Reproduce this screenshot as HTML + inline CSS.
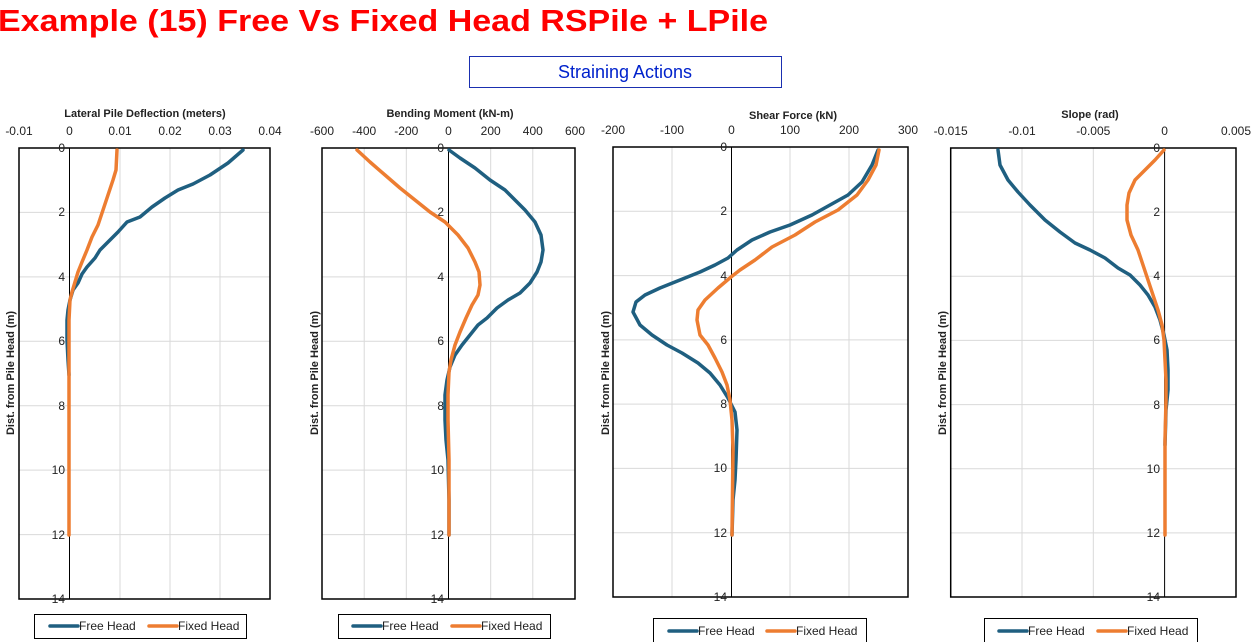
<!DOCTYPE html>
<html><head><meta charset="utf-8"><style>
html,body{margin:0;padding:0;background:#fff;}
svg{display:block;font-family:"Liberation Sans",sans-serif;}
.g{stroke:#d9d9d9;stroke-width:1;}
.b{fill:none;stroke:#000;stroke-width:1.5;}
.ax{stroke:#000;stroke-width:1;}
.tl{font-size:12px;fill:#222;text-anchor:middle;}
.yl{font-size:12px;fill:#222;text-anchor:end;}
.tt{font-size:11px;font-weight:bold;fill:#222;text-anchor:middle;}
.blue{fill:none;stroke:#1f5f80;stroke-width:3.5;stroke-linejoin:round;stroke-linecap:round;}
.or{fill:none;stroke:#ed7d31;stroke-width:3.5;stroke-linejoin:round;stroke-linecap:round;}
.lg{font-size:12px;fill:#222;}
</style></head><body>
<svg width="1258" height="642" viewBox="0 0 1258 642">
<text x="-2" y="31" font-size="31" font-weight="bold" fill="#ff0000" textLength="770" lengthAdjust="spacingAndGlyphs">Example (15) Free Vs Fixed Head RSPile + LPile</text>
<rect x="469.5" y="56.5" width="312" height="31" fill="#fff" stroke="#1a2fb0" stroke-width="1"/>
<text x="625" y="78" font-size="18" fill="#0022cc" text-anchor="middle">Straining Actions</text>

<!-- Chart 1 -->
<g>
<line class="g" x1="19" y1="212.4" x2="270" y2="212.4"/><line class="g" x1="19" y1="276.9" x2="270" y2="276.9"/><line class="g" x1="19" y1="341.3" x2="270" y2="341.3"/><line class="g" x1="19" y1="405.7" x2="270" y2="405.7"/><line class="g" x1="19" y1="470.1" x2="270" y2="470.1"/><line class="g" x1="19" y1="534.6" x2="270" y2="534.6"/>
<line class="g" x1="120" y1="148" x2="120" y2="599"/><line class="g" x1="170" y1="148" x2="170" y2="599"/><line class="g" x1="220" y1="148" x2="220" y2="599"/>
<rect class="b" x="19" y="148" width="251" height="451"/>
<line class="ax" x1="69.5" y1="148" x2="69.5" y2="599"/>
<text class="tl" x="19" y="135">-0.01</text><text class="tl" x="69.5" y="135">0</text><text class="tl" x="120" y="135">0.01</text><text class="tl" x="170" y="135">0.02</text><text class="tl" x="220" y="135">0.03</text><text class="tl" x="270" y="135">0.04</text>
<text class="yl" x="65" y="152">0</text><text class="yl" x="65" y="216">2</text><text class="yl" x="65" y="281">4</text><text class="yl" x="65" y="345">6</text><text class="yl" x="65" y="410">8</text><text class="yl" x="65" y="474">10</text><text class="yl" x="65" y="539">12</text><text class="yl" x="65" y="603">14</text>
<text class="tt" x="145" y="117">Lateral Pile  Deflection (meters)</text>
<text class="tt" transform="translate(14,373) rotate(-90)">Dist. from Pile Head (m)</text>
<polyline class="blue" points="243,150 228,163 210,175 193,184 178,190 165,198 152,207 140,217 127,222 118,232 110,240 100,250 95,258 87,267 82,274 78,283 73,290 70,300 68,310 67,320 67,340 68,360 69,375"/>
<polyline class="or" points="117,150 116,170 113,180 108,195 103,210 98,225 92,237 87,250 82,262 78,272 75,282 72,292 70,300 69,320 69,535"/>
<rect x="34.5" y="614.5" width="212" height="24" fill="#fff" stroke="#000"/>
<line x1="50" y1="626" x2="78" y2="626" stroke="#1f5f80" stroke-width="3.5" stroke-linecap="round"/><text class="lg" x="79" y="630">Free Head</text>
<line x1="149" y1="626" x2="177" y2="626" stroke="#ed7d31" stroke-width="3.5" stroke-linecap="round"/><text class="lg" x="178" y="630">Fixed Head</text>
</g>

<!-- Chart 2 -->
<g>
<line class="g" x1="322" y1="212.4" x2="575" y2="212.4"/><line class="g" x1="322" y1="276.9" x2="575" y2="276.9"/><line class="g" x1="322" y1="341.3" x2="575" y2="341.3"/><line class="g" x1="322" y1="405.7" x2="575" y2="405.7"/><line class="g" x1="322" y1="470.1" x2="575" y2="470.1"/><line class="g" x1="322" y1="534.6" x2="575" y2="534.6"/>
<line class="g" x1="364.2" y1="148" x2="364.2" y2="599"/><line class="g" x1="406.3" y1="148" x2="406.3" y2="599"/><line class="g" x1="490.7" y1="148" x2="490.7" y2="599"/><line class="g" x1="532.8" y1="148" x2="532.8" y2="599"/>
<rect class="b" x="322" y="148" width="253" height="451"/>
<line class="ax" x1="448.5" y1="148" x2="448.5" y2="599"/>
<text class="tl" x="322" y="135">-600</text><text class="tl" x="364.2" y="135">-400</text><text class="tl" x="406.3" y="135">-200</text><text class="tl" x="448.5" y="135">0</text><text class="tl" x="490.7" y="135">200</text><text class="tl" x="532.8" y="135">400</text><text class="tl" x="575" y="135">600</text>
<text class="yl" x="444" y="152">0</text><text class="yl" x="444" y="216">2</text><text class="yl" x="444" y="281">4</text><text class="yl" x="444" y="345">6</text><text class="yl" x="444" y="410">8</text><text class="yl" x="444" y="474">10</text><text class="yl" x="444" y="539">12</text><text class="yl" x="444" y="603">14</text>
<text class="tt" x="450" y="117">Bending Moment (kN-m)</text>
<text class="tt" transform="translate(318,373) rotate(-90)">Dist. from Pile Head (m)</text>
<polyline class="blue" points="449,150 460,158 475,168 490,180 505,190 515,200 525,210 535,222 541,235 543,250 541,262 537,272 530,283 520,293 508,300 497,308 487,318 478,325 470,335 462,345 455,355 450,367 447,380 445,395 445,420 446,440 448,460 449,500 449,535"/>
<polyline class="or" points="357,150 370,162 385,175 400,188 415,200 430,212 445,222 458,235 468,248 475,262 479,272 480,285 478,295 472,305 466,318 460,332 455,345 451,360 449,372 448,395 448,420 449,460 449,535"/>
<rect x="338.5" y="614.5" width="212" height="24" fill="#fff" stroke="#000"/>
<line x1="353" y1="626" x2="381" y2="626" stroke="#1f5f80" stroke-width="3.5" stroke-linecap="round"/><text class="lg" x="382" y="630">Free Head</text>
<line x1="452" y1="626" x2="480" y2="626" stroke="#ed7d31" stroke-width="3.5" stroke-linecap="round"/><text class="lg" x="481" y="630">Fixed Head</text>
</g>

<!-- Chart 3 -->
<g>
<line class="g" x1="613" y1="211.3" x2="908" y2="211.3"/><line class="g" x1="613" y1="275.6" x2="908" y2="275.6"/><line class="g" x1="613" y1="339.9" x2="908" y2="339.9"/><line class="g" x1="613" y1="404.1" x2="908" y2="404.1"/><line class="g" x1="613" y1="468.4" x2="908" y2="468.4"/><line class="g" x1="613" y1="532.7" x2="908" y2="532.7"/>
<line class="g" x1="672" y1="147" x2="672" y2="597"/><line class="g" x1="790" y1="147" x2="790" y2="597"/><line class="g" x1="849" y1="147" x2="849" y2="597"/>
<rect class="b" x="613" y="147" width="295" height="450"/>
<line class="ax" x1="731.5" y1="147" x2="731.5" y2="597"/>
<text class="tl" x="613" y="134">-200</text><text class="tl" x="672" y="134">-100</text><text class="tl" x="731.5" y="134">0</text><text class="tl" x="790" y="134">100</text><text class="tl" x="849" y="134">200</text><text class="tl" x="908" y="134">300</text>
<text class="yl" x="727" y="151">0</text><text class="yl" x="727" y="215">2</text><text class="yl" x="727" y="280">4</text><text class="yl" x="727" y="344">6</text><text class="yl" x="727" y="408">8</text><text class="yl" x="727" y="472">10</text><text class="yl" x="727" y="537">12</text><text class="yl" x="727" y="601">14</text>
<text class="tt" x="793" y="119">Shear Force (kN)</text>
<text class="tt" transform="translate(609,373) rotate(-90)">Dist. from Pile Head (m)</text>
<polyline class="blue" points="878,150 872,165 862,182 848,195 830,205 812,215 790,225 770,232 752,240 737,250 728,258 715,265 700,272 680,280 660,288 645,295 636,302 633,312 640,325 652,335 667,345 682,353 698,363 710,373 720,385 728,398 735,412 737,430 736,460 735,480 733,500 732,535"/>
<polyline class="or" points="879,150 876,165 868,180 857,195 838,210 815,222 795,235 772,247 755,260 740,270 731,277 718,288 705,300 698,310 697,320 700,335 708,345 715,358 722,372 727,385 730,400 732,420 733,450 732,535"/>
<rect x="653.5" y="618.5" width="213" height="24" fill="#fff" stroke="#000"/>
<line x1="669" y1="631" x2="697" y2="631" stroke="#1f5f80" stroke-width="3.5" stroke-linecap="round"/><text class="lg" x="698" y="635">Free Head</text>
<line x1="767" y1="631" x2="795" y2="631" stroke="#ed7d31" stroke-width="3.5" stroke-linecap="round"/><text class="lg" x="796" y="635">Fixed Head</text>
</g>

<!-- Chart 4 -->
<g>
<line class="g" x1="950.7" y1="212.1" x2="1236" y2="212.1"/><line class="g" x1="950.7" y1="276.3" x2="1236" y2="276.3"/><line class="g" x1="950.7" y1="340.4" x2="1236" y2="340.4"/><line class="g" x1="950.7" y1="404.6" x2="1236" y2="404.6"/><line class="g" x1="950.7" y1="468.7" x2="1236" y2="468.7"/><line class="g" x1="950.7" y1="532.9" x2="1236" y2="532.9"/>
<line class="g" x1="1022" y1="148" x2="1022" y2="597"/><line class="g" x1="1093.3" y1="148" x2="1093.3" y2="597"/>
<rect class="b" x="950.7" y="148" width="285.3" height="449"/>
<line class="ax" x1="1164.6" y1="148" x2="1164.6" y2="597"/>
<text class="tl" x="950.7" y="135">-0.015</text><text class="tl" x="1022" y="135">-0.01</text><text class="tl" x="1093.3" y="135">-0.005</text><text class="tl" x="1164.6" y="135">0</text><text class="tl" x="1236" y="135">0.005</text>
<text class="yl" x="1160" y="152">0</text><text class="yl" x="1160" y="216">2</text><text class="yl" x="1160" y="280">4</text><text class="yl" x="1160" y="344">6</text><text class="yl" x="1160" y="409">8</text><text class="yl" x="1160" y="473">10</text><text class="yl" x="1160" y="537">12</text><text class="yl" x="1160" y="601">14</text>
<text class="tt" x="1090" y="118">Slope (rad)</text>
<text class="tt" transform="translate(946,373) rotate(-90)">Dist. from Pile Head (m)</text>
<polyline class="blue" points="998,150 1000,165 1008,180 1018,192 1030,205 1045,220 1060,232 1075,243 1090,250 1105,258 1118,268 1130,275 1140,285 1148,295 1155,307 1160,320 1164,335 1167,350 1168,370 1168,390 1166,410 1165,445"/>
<polyline class="or" points="1164,150 1155,160 1145,170 1135,180 1129,193 1127,205 1127,220 1131,235 1138,250 1144,268 1148,280 1153,295 1158,310 1162,325 1164,340 1165,360 1166,380 1166,400 1165,440 1165,535"/>
<rect x="984.5" y="618.5" width="213" height="24" fill="#fff" stroke="#000"/>
<line x1="999" y1="631" x2="1027" y2="631" stroke="#1f5f80" stroke-width="3.5" stroke-linecap="round"/><text class="lg" x="1028" y="635">Free Head</text>
<line x1="1098" y1="631" x2="1126" y2="631" stroke="#ed7d31" stroke-width="3.5" stroke-linecap="round"/><text class="lg" x="1127" y="635">Fixed Head</text>
</g>
</svg>
</body></html>
